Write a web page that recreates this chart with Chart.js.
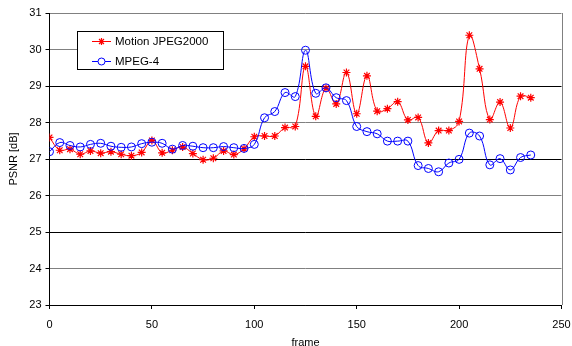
<!DOCTYPE html>
<html>
<head>
<meta charset="utf-8">
<script src="https://cdn.jsdelivr.net/npm/chart.js@4/dist/chart.umd.min.js"></script>
<style>
	html, body { margin: 0; padding: 0; background: #fff; }
	#wrap { position: relative; width: 572px; height: 346px; }
</style>
</head>
<body>
<div id="wrap"><canvas id="psnrChart" width="572" height="346"></canvas></div>
<script>
// Frame numbers (x values)
var frames = [0, 5, 10, 15, 20, 25, 30, 35, 40, 45, 50, 55, 60, 65, 70, 75, 80, 85, 90, 95,
	100, 105, 110, 115, 120, 125, 130, 135, 140, 145, 150, 155, 160, 165, 170, 175, 180, 185, 190, 195,
	200, 205, 210, 215, 220, 225, 230, 235];

// PSNR values
var mjpeg2000 = [27.59, 27.24, 27.27, 27.13, 27.22, 27.16, 27.20, 27.13, 27.09, 27.18,
	27.51, 27.17, 27.24, 27.33, 27.15, 26.98, 27.02, 27.22, 27.12, 27.28,
	27.61, 27.63, 27.63, 27.86, 27.89, 29.54, 28.17, 28.94, 28.51, 29.37,
	28.24, 29.28, 28.31, 28.38, 28.57, 28.07, 28.14, 27.44, 27.78, 27.78,
	28.03, 30.39, 29.47, 28.08, 28.56, 27.85, 28.72, 28.68];
var mpeg4 = [27.20, 27.45, 27.37, 27.33, 27.40, 27.43, 27.35, 27.32, 27.33, 27.42,
	27.46, 27.43, 27.27, 27.37, 27.35, 27.31, 27.31, 27.34, 27.31, 27.29,
	27.40, 28.13, 28.30, 28.82, 28.71, 29.98, 28.80, 28.95, 28.68, 28.60,
	27.89, 27.75, 27.69, 27.49, 27.49, 27.49, 26.82, 26.74, 26.65, 26.89,
	26.99, 27.71, 27.63, 26.84, 27.01, 26.70, 27.04, 27.11];

var seriesNames = ['Motion JPEG2000', 'MPEG-4'];
var xTicks = [0, 50, 100, 150, 200, 250];
var yTicks = [23, 24, 25, 26, 27, 28, 29, 30, 31];

var FONT = '"Liberation Sans", Arial, sans-serif';

function toPoints(values) {
	var pts = [];
	for (var i = 0; i < values.length; i++) {
		pts.push({ x: frames[i], y: values[i] });
	}
	return pts;
}

// Gray border on the right of the plot area + legend box inside the plot
var framePlugin = {
	id: 'framePlugin',
	beforeDatasetsDraw: function(chart) {
		var a = chart.chartArea, ctx = chart.ctx;
		ctx.save();
		ctx.strokeStyle = '#808080';
		ctx.lineWidth = 1;
		ctx.beginPath();
		ctx.moveTo(Math.round(a.right) + 0.5, a.top);
		ctx.lineTo(Math.round(a.right) + 0.5, a.bottom);
		ctx.stroke();
		ctx.restore();
	},
	afterDraw: function(chart) {
		var ctx = chart.ctx;
		ctx.save();
		// legend box
		ctx.fillStyle = '#fff';
		ctx.fillRect(77, 31, 146, 38);
		ctx.strokeStyle = '#000';
		ctx.lineWidth = 1;
		ctx.strokeRect(77.5, 31.5, 146, 38);
		var rows = [
			{ y: 41.5, color: '#ff0000', style: 'star', width: 1.2 },
			{ y: 61.5, color: '#0000ff', style: 'circle', width: 1 }
		];
		for (var i = 0; i < rows.length; i++) {
			var r = rows[i];
			ctx.strokeStyle = r.color;
			ctx.lineWidth = 1;
			ctx.beginPath();
			ctx.moveTo(92, r.y);
			ctx.lineTo(111, r.y);
			ctx.stroke();
			ctx.fillStyle = '#fff';
			ctx.lineWidth = r.width;
			Chart.helpers.drawPoint(ctx, {
				pointStyle: r.style, rotation: 0, radius: 3.5, borderWidth: r.width
			}, 101.5, r.y);
			ctx.fillStyle = '#000';
			ctx.font = '11.5px ' + FONT;
			ctx.textBaseline = 'middle';
			ctx.textAlign = 'left';
			ctx.fillText(seriesNames[i], 115, r.y + 0.5);
		}
		ctx.restore();
	}
};

var ctx = document.getElementById('psnrChart');
var psnrChart = new Chart(ctx, {
	type: 'line',
	data: {
		datasets: [
			{
				label: seriesNames[0],
				data: toPoints(mjpeg2000),
				borderColor: '#ff0000',
				backgroundColor: 'rgba(0,0,0,0)',
				borderWidth: 1,
				tension: 0.4,
				pointStyle: 'star',
				pointRadius: 4,
				pointBorderColor: '#ff0000',
				pointBorderWidth: 1.2,
				order: 1
			},
			{
				label: seriesNames[1],
				data: toPoints(mpeg4),
				borderColor: '#0000ff',
				backgroundColor: 'rgba(0,0,0,0)',
				borderWidth: 1,
				tension: 0.4,
				pointStyle: 'circle',
				pointRadius: 4,
				pointBorderColor: '#0000ff',
				pointBackgroundColor: 'rgba(0,0,0,0)',
				pointBorderWidth: 1,
				order: 0
			}
		]
	},
	options: {
		responsive: false,
		animation: false,
		layout: { padding: { top: 13, right: 0, left: 7, bottom: 0 } },
		plugins: {
			legend: { display: false },
			tooltip: { enabled: false }
		},
		scales: {
			x: {
				type: 'linear',
				min: 0,
				max: 250,
				afterBuildTicks: function(scale) {
					scale.ticks = xTicks.map(function(v) { return { value: v }; });
				},
				afterFit: function(scale) {
					scale.height = 41;
					scale.paddingRight = 10.5;
					scale.paddingLeft = 0;
				},
				grid: {
					drawOnChartArea: false,
					drawTicks: true,
					tickLength: 4,
					tickColor: '#000'
				},
				border: { color: '#000', width: 1 },
				ticks: {
					color: '#000',
					font: { family: FONT, size: 11 },
					padding: 9,
					maxRotation: 0
				},
				title: {
					display: true,
					text: 'frame',
					color: '#000',
					font: { family: FONT, size: 11 },
					padding: { top: 7, bottom: -4 }
				}
			},
			y: {
				min: 23,
				max: 31,
				afterBuildTicks: function(scale) {
					scale.ticks = yTicks.map(function(v) { return { value: v }; });
				},
				afterFit: function(scale) { scale.width = 42.5; },
				grid: {
					color: function(c) {
						if (!c.tick) return '#000';
						if (c.tick.value === 23) return '#000';
						return c.tick.value % 2 === 0 || c.tick.value === 31 ? '#808080' : '#000';
					},
					lineWidth: 1,
					tickLength: 4,
					tickColor: '#000'
				},
				border: { color: '#000', width: 1 },
				ticks: {
					color: '#000',
					font: { family: FONT, size: 11 },
					padding: 4
				},
				title: {
					display: true,
					text: 'PSNR [dB]',
					color: '#000',
					font: { family: FONT, size: 11 },
					padding: { top: 0, bottom: 0 }
				}
			}
		}
	},
	plugins: [framePlugin]
});
</script>
</body>
</html>
